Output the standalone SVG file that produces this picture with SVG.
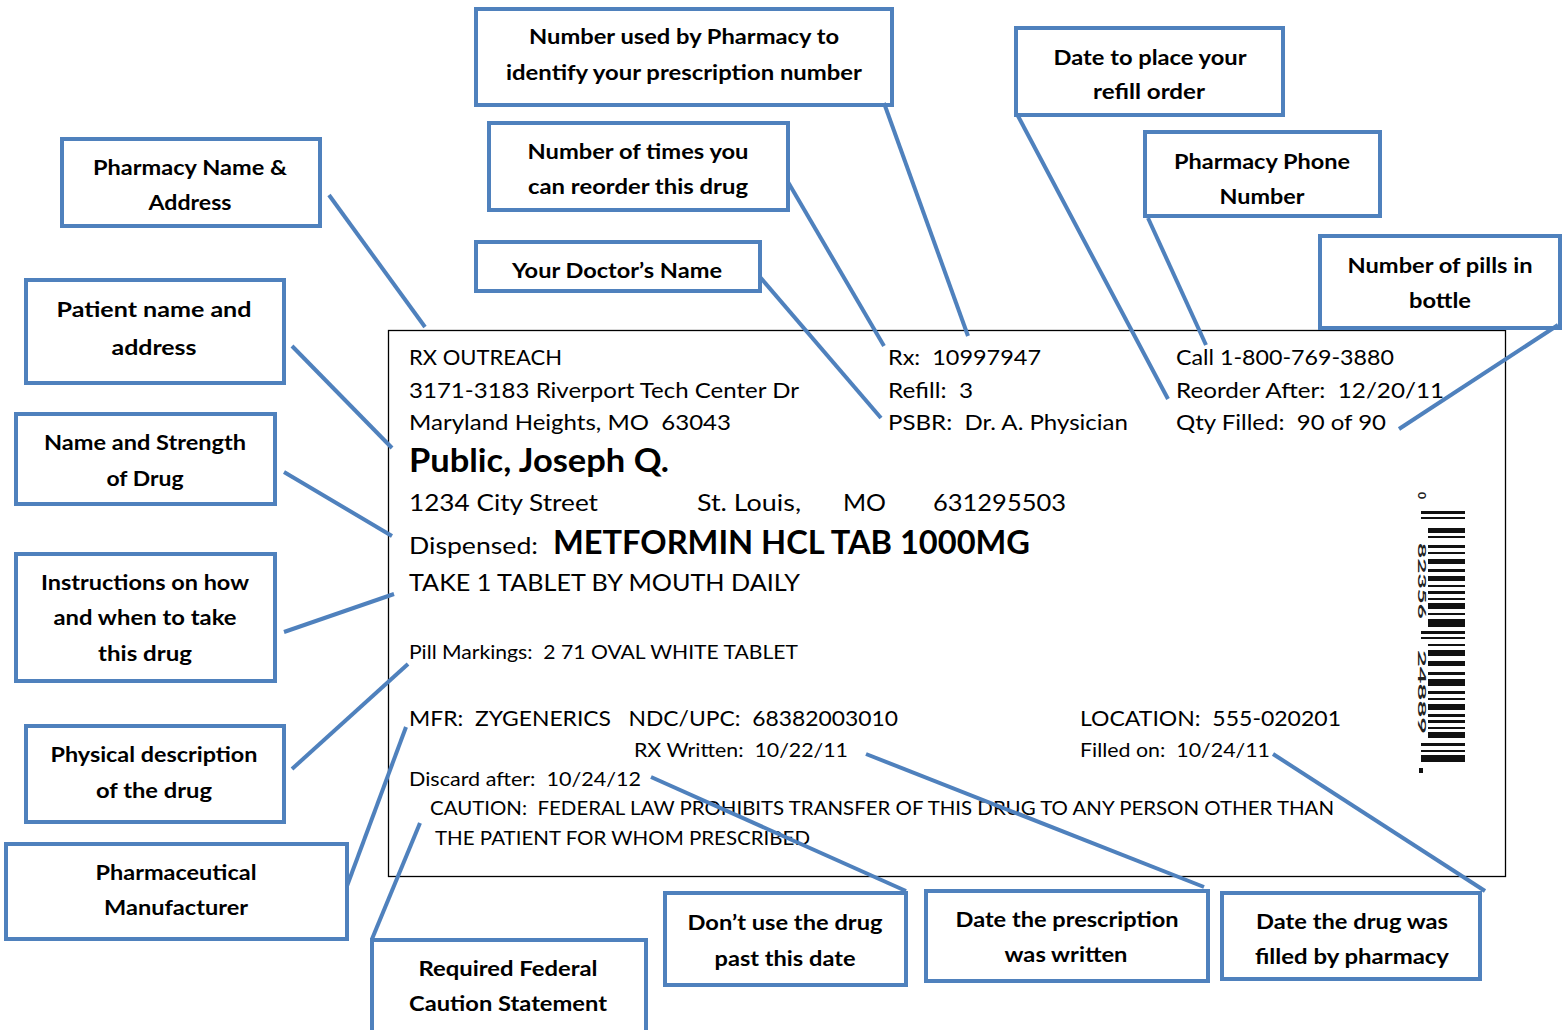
<svg xmlns="http://www.w3.org/2000/svg" width="1564" height="1030" viewBox="0 0 1564 1030">
<style>
.box{fill:#fff;stroke:#4F81BD;stroke-width:4}
.bt{font-family:Lato,"Open Sans","Liberation Sans",sans-serif;font-weight:bold;font-size:21px;fill:#000;text-anchor:middle}
.lt{font-family:Lato,"Open Sans","Liberation Sans",sans-serif;font-size:22px;fill:#000;white-space:pre}
.sm{font-size:20px}
.bd{font-weight:bold;font-size:32px}
.con line{stroke:#4F81BD;stroke-width:4;stroke-linecap:butt}
</style>
<rect width="1564" height="1030" fill="#fff"/>
<g id="label">
<rect x="388.5" y="330.5" width="1117" height="546" fill="none" stroke="#000" stroke-width="1.3"/>
<text class="lt" x="409" y="365" textLength="153" lengthAdjust="spacingAndGlyphs">RX OUTREACH</text>
<text class="lt" x="409" y="398" textLength="390" lengthAdjust="spacingAndGlyphs">3171-3183 Riverport Tech Center Dr</text>
<text class="lt" x="409" y="430" textLength="322" lengthAdjust="spacingAndGlyphs">Maryland Heights, MO  63043</text>
<text class="lt bd" x="409" y="472" textLength="260" lengthAdjust="spacingAndGlyphs">Public, Joseph Q.</text>
<text class="lt" x="409" y="511" style="font-size:24px" textLength="189" lengthAdjust="spacingAndGlyphs">1234 City Street</text>
<text class="lt" x="697" y="511" style="font-size:24px" textLength="104" lengthAdjust="spacingAndGlyphs">St. Louis,</text>
<text class="lt" x="843" y="511" style="font-size:24px" textLength="43" lengthAdjust="spacingAndGlyphs">MO</text>
<text class="lt" x="933" y="511" style="font-size:24px" textLength="133" lengthAdjust="spacingAndGlyphs">631295503</text>
<text class="lt" x="409" y="554" style="font-size:24px" textLength="129" lengthAdjust="spacingAndGlyphs">Dispensed:</text>
<text class="lt bd" x="553" y="554" textLength="477" lengthAdjust="spacingAndGlyphs">METFORMIN HCL TAB 1000MG</text>
<text class="lt" x="409" y="591" style="font-size:23px" textLength="391" lengthAdjust="spacingAndGlyphs">TAKE 1 TABLET BY MOUTH DAILY</text>
<text class="lt sm" x="409" y="659" textLength="389" lengthAdjust="spacingAndGlyphs">Pill Markings:  2 71 OVAL WHITE TABLET</text>
<text class="lt" x="409" y="726" textLength="489" lengthAdjust="spacingAndGlyphs">MFR:  ZYGENERICS   NDC/UPC:  68382003010</text>
<text class="lt" x="1080" y="726" textLength="261" lengthAdjust="spacingAndGlyphs">LOCATION:  555-020201</text>
<text class="lt sm" x="634" y="757" textLength="214" lengthAdjust="spacingAndGlyphs">RX Written:  10/22/11</text>
<text class="lt sm" x="1080" y="757" textLength="190" lengthAdjust="spacingAndGlyphs">Filled on:  10/24/11</text>
<text class="lt sm" x="409" y="786" textLength="232" lengthAdjust="spacingAndGlyphs">Discard after:  10/24/12</text>
<text class="lt sm" x="430" y="815" textLength="904" lengthAdjust="spacingAndGlyphs">CAUTION:  FEDERAL LAW PROHIBITS TRANSFER OF THIS DRUG TO ANY PERSON OTHER THAN</text>
<text class="lt sm" x="435" y="845" textLength="375" lengthAdjust="spacingAndGlyphs">THE PATIENT FOR WHOM PRESCRIBED</text>
<text class="lt" x="888" y="365" textLength="153" lengthAdjust="spacingAndGlyphs">Rx:  10997947</text>
<text class="lt" x="888" y="398" textLength="85" lengthAdjust="spacingAndGlyphs">Refill:  3</text>
<text class="lt" x="888" y="430" textLength="240" lengthAdjust="spacingAndGlyphs">PSBR:  Dr. A. Physician</text>
<text class="lt" x="1176" y="365" textLength="218" lengthAdjust="spacingAndGlyphs">Call 1-800-769-3880</text>
<text class="lt" x="1176" y="398" textLength="268" lengthAdjust="spacingAndGlyphs">Reorder After:  12/20/11</text>
<text class="lt" x="1176" y="430" textLength="210" lengthAdjust="spacingAndGlyphs">Qty Filled:  90 of 90</text>
<g id="barcode" fill="#111">
<rect x="1421" y="511" width="44" height="3"/><rect x="1421" y="517" width="44" height="2"/>
<rect x="1428" y="528" width="37" height="5"/><rect x="1428" y="536" width="37" height="2"/>
<rect x="1428" y="545" width="37" height="3"/><rect x="1428" y="552" width="37" height="2"/>
<rect x="1428" y="559" width="37" height="5"/><rect x="1428" y="569" width="37" height="3"/>
<rect x="1428" y="576" width="37" height="5"/><rect x="1428" y="585" width="37" height="2"/>
<rect x="1428" y="591" width="37" height="3"/><rect x="1428" y="598" width="37" height="2"/>
<rect x="1428" y="603" width="37" height="6"/><rect x="1428" y="613" width="37" height="2"/>
<rect x="1428" y="619" width="37" height="8"/><rect x="1421" y="631" width="44" height="3"/>
<rect x="1421" y="637" width="44" height="2"/><rect x="1428" y="644" width="37" height="2"/>
<rect x="1428" y="650" width="37" height="6"/><rect x="1428" y="661" width="37" height="5"/>
<rect x="1428" y="672" width="37" height="3"/><rect x="1428" y="679" width="37" height="7"/>
<rect x="1428" y="691" width="37" height="3"/><rect x="1428" y="698" width="37" height="2"/>
<rect x="1428" y="704" width="37" height="6"/><rect x="1428" y="714" width="37" height="3"/>
<rect x="1428" y="720" width="37" height="3"/><rect x="1428" y="727" width="37" height="2"/>
<rect x="1428" y="732" width="37" height="6"/><rect x="1421" y="743" width="44" height="3"/>
<rect x="1421" y="750" width="44" height="2"/><rect x="1421" y="755" width="44" height="7"/>
<g font-family="Lato,'Liberation Sans',sans-serif" font-weight="bold" font-size="12" fill="#222">
<text transform="translate(1418,492) rotate(90)">0</text>
<text transform="translate(1418,543) rotate(90)" textLength="76" lengthAdjust="spacingAndGlyphs">82356</text>
<text transform="translate(1418,650) rotate(90)" textLength="84" lengthAdjust="spacingAndGlyphs">24889</text>
</g>
<rect x="1419" y="768" width="4" height="5"/>
</g>
</g>
<g id="n1"><rect class="box" x="476" y="9" width="416" height="96"/><text class="bt" x="684" y="44" textLength="310" lengthAdjust="spacingAndGlyphs">Number used by Pharmacy to</text><text class="bt" x="684" y="80" textLength="356" lengthAdjust="spacingAndGlyphs">identify your prescription number</text></g>
<g id="n2"><rect class="box" x="489" y="123" width="299" height="87"/><text class="bt" x="638" y="159" textLength="221" lengthAdjust="spacingAndGlyphs">Number of times you</text><text class="bt" x="638" y="194" textLength="220" lengthAdjust="spacingAndGlyphs">can reorder this drug</text></g>
<g id="n3"><rect class="box" x="476" y="242" width="284" height="49"/><text class="bt" x="617" y="278" textLength="210" lengthAdjust="spacingAndGlyphs">Your Doctor’s Name</text></g>
<g id="n4"><rect class="box" x="1016" y="28" width="267" height="87"/><text class="bt" x="1150" y="65" textLength="193" lengthAdjust="spacingAndGlyphs">Date to place your</text><text class="bt" x="1149" y="99" textLength="112" lengthAdjust="spacingAndGlyphs">refill order</text></g>
<g id="n5"><rect class="box" x="1145" y="132" width="235" height="84"/><text class="bt" x="1262" y="169" textLength="176" lengthAdjust="spacingAndGlyphs">Pharmacy Phone</text><text class="bt" x="1262" y="204" textLength="85" lengthAdjust="spacingAndGlyphs">Number</text></g>
<g id="n6"><rect class="box" x="1320" y="236" width="240" height="92"/><text class="bt" x="1440" y="273" textLength="185" lengthAdjust="spacingAndGlyphs">Number of pills in</text><text class="bt" x="1440" y="308" textLength="62" lengthAdjust="spacingAndGlyphs">bottle</text></g>
<g id="n7"><rect class="box" x="62" y="139" width="258" height="87"/><text class="bt" x="190" y="175" textLength="194" lengthAdjust="spacingAndGlyphs">Pharmacy Name &amp;</text><text class="bt" x="190" y="210" textLength="83" lengthAdjust="spacingAndGlyphs">Address</text></g>
<g id="n8"><rect class="box" x="26" y="280" width="258" height="103"/><text class="bt" x="154" y="317" textLength="195" lengthAdjust="spacingAndGlyphs">Patient name and</text><text class="bt" x="154" y="355" textLength="85" lengthAdjust="spacingAndGlyphs">address</text></g>
<g id="n9"><rect class="box" x="16" y="414" width="259" height="90"/><text class="bt" x="145" y="450" textLength="202" lengthAdjust="spacingAndGlyphs">Name and Strength</text><text class="bt" x="145" y="486" textLength="77" lengthAdjust="spacingAndGlyphs">of Drug</text></g>
<g id="n10"><rect class="box" x="16" y="554" width="259" height="127"/><text class="bt" x="145" y="590" textLength="208" lengthAdjust="spacingAndGlyphs">Instructions on how</text><text class="bt" x="145" y="625" textLength="183" lengthAdjust="spacingAndGlyphs">and when to take</text><text class="bt" x="145" y="661" textLength="94" lengthAdjust="spacingAndGlyphs">this drug</text></g>
<g id="n11"><rect class="box" x="26" y="726" width="258" height="96"/><text class="bt" x="154" y="762" textLength="207" lengthAdjust="spacingAndGlyphs">Physical description</text><text class="bt" x="154" y="798" textLength="116" lengthAdjust="spacingAndGlyphs">of the drug</text></g>
<g id="n12"><rect class="box" x="6" y="844" width="341" height="95"/><text class="bt" x="176" y="880" textLength="161" lengthAdjust="spacingAndGlyphs">Pharmaceutical</text><text class="bt" x="176" y="915" textLength="144" lengthAdjust="spacingAndGlyphs">Manufacturer</text></g>
<g id="n13"><rect class="box" x="372" y="940" width="274" height="92"/><text class="bt" x="508" y="976" textLength="179" lengthAdjust="spacingAndGlyphs">Required Federal</text><text class="bt" x="508" y="1011" textLength="198" lengthAdjust="spacingAndGlyphs">Caution Statement</text></g>
<g id="n14"><rect class="box" x="665" y="893" width="241" height="92"/><text class="bt" x="785" y="930" textLength="195" lengthAdjust="spacingAndGlyphs">Don’t use the drug</text><text class="bt" x="785" y="966" textLength="141" lengthAdjust="spacingAndGlyphs">past this date</text></g>
<g id="n15"><rect class="box" x="926" y="891" width="282" height="90"/><text class="bt" x="1067" y="927" textLength="223" lengthAdjust="spacingAndGlyphs">Date the prescription</text><text class="bt" x="1066" y="962" textLength="123" lengthAdjust="spacingAndGlyphs">was written</text></g>
<g id="n16"><rect class="box" x="1222" y="893" width="258" height="86"/><text class="bt" x="1352" y="929" textLength="192" lengthAdjust="spacingAndGlyphs">Date the drug was</text><text class="bt" x="1352" y="964" textLength="194" lengthAdjust="spacingAndGlyphs">filled by pharmacy</text></g>
<g id="connectors" class="con">
<line x1="329" y1="195" x2="425" y2="327"/>
<line x1="884" y1="103" x2="968" y2="336"/>
<line x1="788" y1="182" x2="884" y2="346"/>
<line x1="760" y1="277" x2="881" y2="418"/>
<line x1="1018" y1="116" x2="1168" y2="399"/>
<line x1="1148" y1="218" x2="1206" y2="345"/>
<line x1="1558" y1="325" x2="1399" y2="429"/>
<line x1="292" y1="346" x2="392" y2="448"/>
<line x1="284" y1="472" x2="392" y2="536"/>
<line x1="284" y1="632" x2="394" y2="594"/>
<line x1="292" y1="769" x2="408" y2="664"/>
<line x1="347" y1="886" x2="406" y2="727"/>
<line x1="372" y1="939" x2="420" y2="823"/>
<line x1="906" y1="891" x2="651" y2="777"/>
<line x1="1204" y1="887" x2="866" y2="754"/>
<line x1="1485" y1="891" x2="1273" y2="754"/>
</g>
</svg>
